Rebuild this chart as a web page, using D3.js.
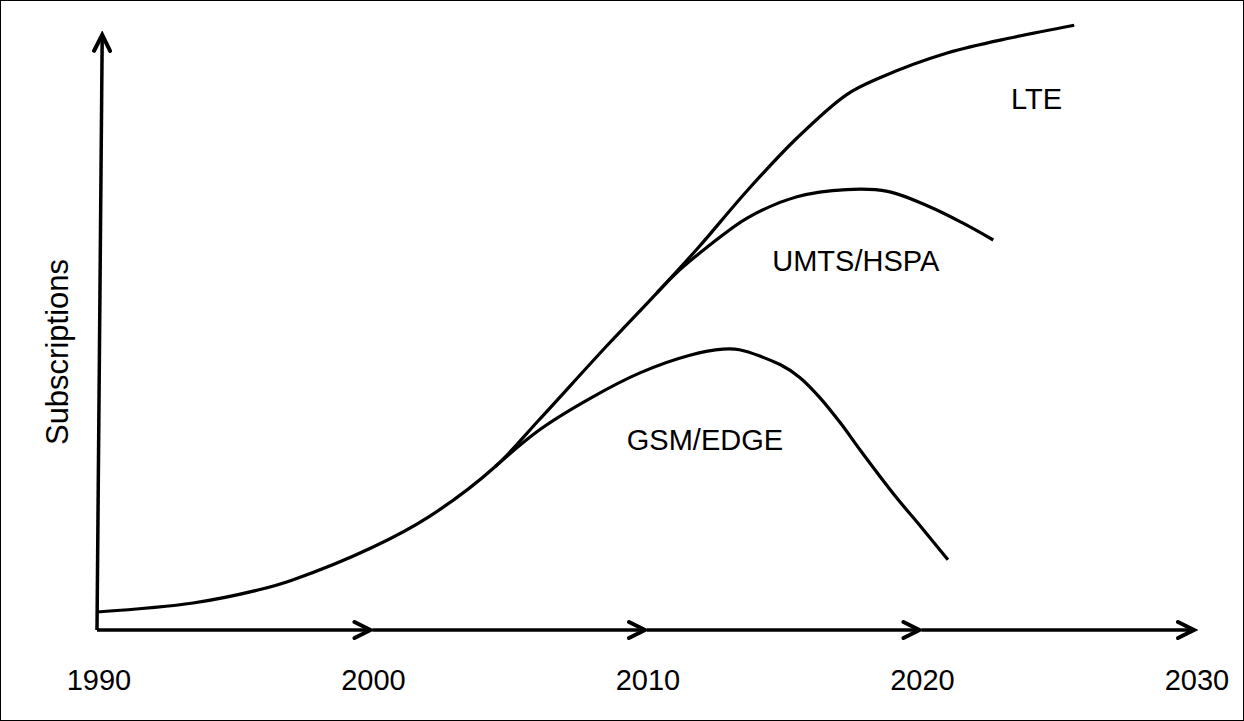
<!DOCTYPE html>
<html>
<head>
<meta charset="utf-8">
<script src="https://cdn.jsdelivr.net/npm/d3@7"></script>
<style>
  html, body { margin: 0; padding: 0; background: #fff; }
  svg { display: block; }
  text { font-family: "Liberation Sans", Arial, sans-serif; fill: #000; }
</style>
</head>
<body>
<svg id="chart" width="1244" height="721"></svg>
<script>
// ---- data ----
const tickYears = [1990, 2000, 2010, 2020, 2030];
const tickLabels = ["1990", "2000", "2010", "2020", "2030"];

// LTE (includes shared early growth curve)
const lteYears  = [1990, 1993.5, 1995.9, 1997.1, 2000.0, 2002.1, 2004.5, 2006.1, 2008.6, 2010.4, 2011.9, 2013.7, 2015.5, 2017.3, 2018.5, 2021.0, 2023.4, 2025.6];
const lteValues = [3.0,  4.5,    6.7,    8.3,    13.7,   18.9,   27.2,   35.0,   47.5,   56.2,   63.7,   73.3,   82.0,   89.2,   92.0,   96.2,   98.8,   100.8];

const umtsYears  = [2010.4, 2011.2, 2012.2, 2013.7, 2015.5, 2017.3, 2018.8, 2020.35, 2021.55, 2022.65];
const umtsValues = [56.2,   59.9,   63.7,   68.7,   72.2,   73.4,   73.1,   70.5,    67.8,    65.0];

const gsmYears  = [2004.5, 2006.1, 2008.0, 2009.8, 2011.6, 2012.8, 2013.4, 2014.9, 2015.6, 2016.3, 2017.1, 2017.8, 2019.1, 2020.0, 2021.0];
const gsmValues = [27.2,   33.3,   38.7,   42.9,   45.8,   46.8,   46.7,   44.2,   42.1,   38.9,   34.4,   30.0,   22.2,   17.3,   11.7];

const seriesNames = ["LTE", "UMTS/HSPA", "GSM/EDGE"];
const labelYears  = [2023.3, 2014.6, 2009.3];
const labelValues = [86.8, 59.8, 30.0];

const yAxisTitle = "Subscriptions";

// ---- drawing ----
const svg = d3.select("#chart");
const W = 1244, H = 721;

const x = d3.scaleLinear().domain([1990, 2030]).range([97, 1195]);
const y = d3.scaleLinear().domain([0, 100]).range([630, 30]);

// frame
svg.append("rect").attr("x", 0.5).attr("y", 0.5).attr("width", W - 1).attr("height", H - 1)
  .attr("fill", "none").attr("stroke", "#000").attr("stroke-width", 1);

// arrow marker
const defs = svg.append("defs");
defs.append("marker")
  .attr("id", "arrow").attr("viewBox", "-20 -10 24 20")
  .attr("refX", 0).attr("refY", 0)
  .attr("markerUnits", "userSpaceOnUse")
  .attr("markerWidth", 24).attr("markerHeight", 20)
  .attr("orient", "auto")
  .append("path").attr("d", "M-16,-8 L0,0 L-16,8")
  .attr("fill", "none").attr("stroke", "#000").attr("stroke-width", 4)
  .attr("stroke-linecap", "round").attr("stroke-linejoin", "miter");

// y axis (slightly slanted arrow)
svg.append("line")
  .attr("x1", x(1990)).attr("y1", y(0))
  .attr("x2", x(1990.19)).attr("y2", y(99.2))
  .attr("stroke", "#000").attr("stroke-width", 3.5)
  .attr("marker-end", "url(#arrow)");

// x axis: decade arrows
for (let i = 0; i < tickYears.length - 1; i++) {
  svg.append("line")
    .attr("x1", x(tickYears[i]) + (i === 0 ? 0 : 1)).attr("y1", y(0))
    .attr("x2", x(tickYears[i + 1]) - 1).attr("y2", y(0))
    .attr("stroke", "#000").attr("stroke-width", 3.5)
    .attr("marker-end", "url(#arrow)");
}

// tick labels
svg.selectAll("text.tick").data(tickYears).enter().append("text")
  .attr("class", "tick")
  .attr("x", d => x(d) + 2).attr("y", y(0) + 60)
  .attr("text-anchor", "middle").attr("font-size", 29)
  .text((d, i) => tickLabels[i]);

// y title
svg.append("text")
  .attr("transform", `translate(68, 352) rotate(-90)`)
  .attr("text-anchor", "middle").attr("font-size", 31)
  .text(yAxisTitle);

// curves
const line = d3.line().x(d => x(d[0])).y(d => y(d[1])).curve(d3.curveCatmullRom.alpha(0.5));
const series = [
  d3.zip(lteYears, lteValues),
  d3.zip(umtsYears, umtsValues),
  d3.zip(gsmYears, gsmValues)
];
svg.selectAll("path.series").data(series).enter().append("path")
  .attr("class", "series")
  .attr("d", line)
  .attr("fill", "none").attr("stroke", "#000").attr("stroke-width", 3.2)
  .attr("stroke-linecap", "butt");

// series labels
svg.selectAll("text.lbl").data(seriesNames).enter().append("text")
  .attr("class", "lbl")
  .attr("x", (d, i) => x(labelYears[i])).attr("y", (d, i) => y(labelValues[i]))
  .attr("font-size", 29)
  .text(d => d);
</script>
</body>
</html>
